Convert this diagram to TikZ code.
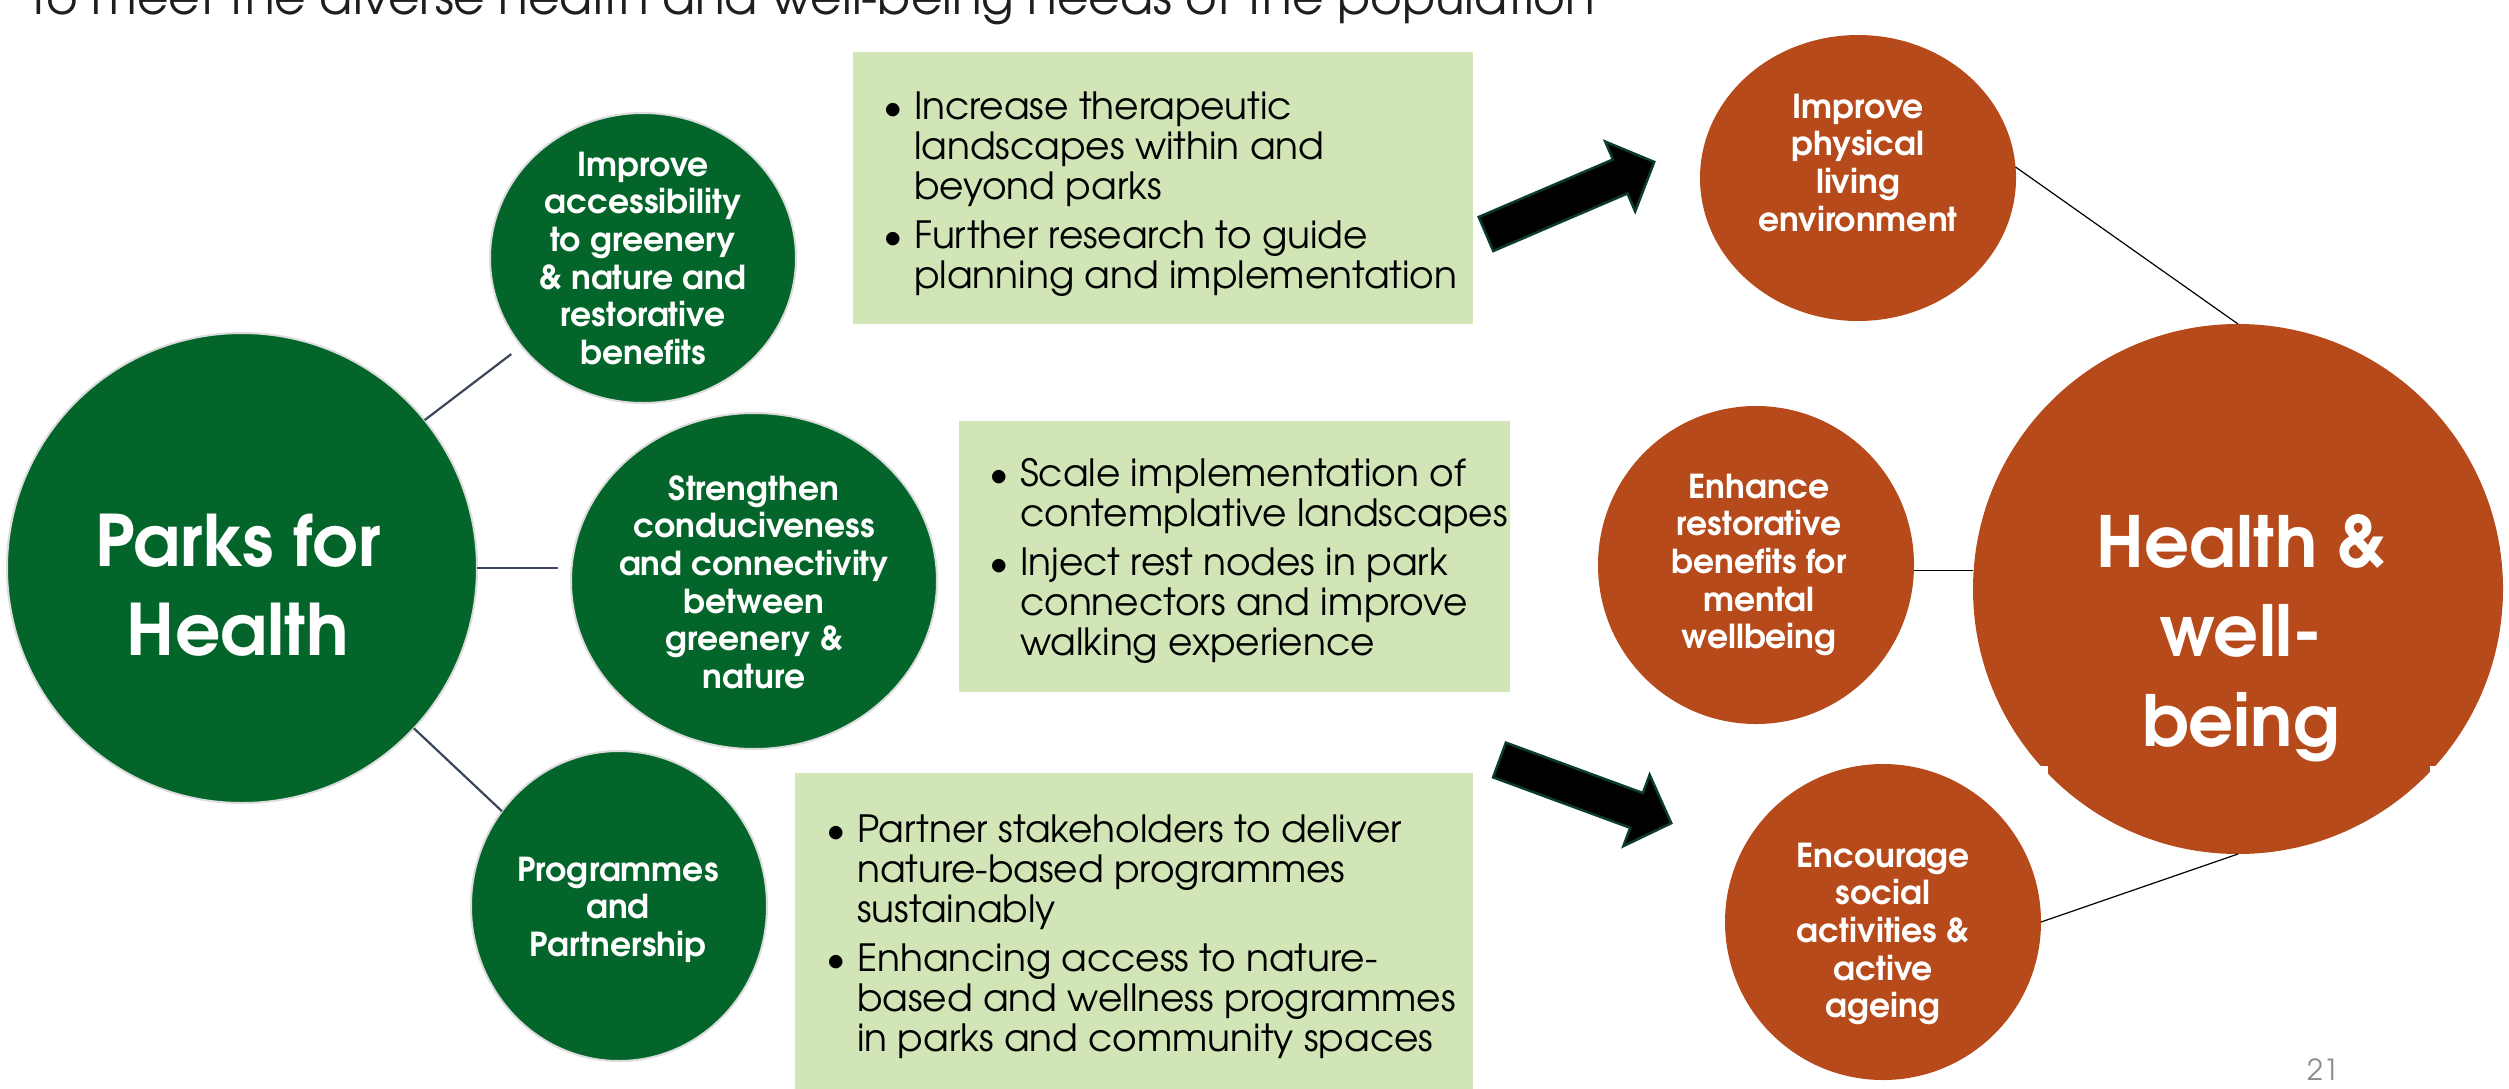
\documentclass[tikz,border=0pt]{standalone}
\usepackage{fontspec}
\setmainfont{texgyreadventor}[Extension=.otf,UprightFont=*-regular,BoldFont=*-bold,ItalicFont=*-italic,BoldItalicFont=*-bolditalic]
\usetikzlibrary{shapes.geometric,calc}
\definecolor{pgreen}{RGB}{3,101,41}
\definecolor{porange}{RGB}{182,74,26}
\definecolor{pbox}{RGB}{209,229,182}
\definecolor{pline}{RGB}{60,70,90}
\definecolor{pedge}{RGB}{220,220,220}
\definecolor{arrowedge}{RGB}{12,60,45}
\definecolor{pnum}{RGB}{140,140,140}
\definecolor{ptitle}{RGB}{30,30,30}
\tikzset{
  gcirc/.style={ellipse, fill=pgreen, draw=pedge, line width=2pt, inner sep=0pt, outer sep=0pt},
  ocirc/.style={ellipse, fill=porange, inner sep=0pt, outer sep=0pt},
  boxnode/.style={rectangle, fill=pbox, inner sep=0pt, outer sep=0pt, anchor=north west},
  ctext/.style={text=white, font=\bfseries\fontsize{33}{37.7}\selectfont, anchor=base, inner sep=0pt},
  btext/.style={text=black, font=\fontsize{37.5}{40}\selectfont, anchor=base west, inner sep=0pt},
  lconn/.style={draw=pline, line width=2.2pt},
  rconn/.style={draw=black, line width=1.2pt},
  bigarrow/.style={fill=black, draw=arrowedge, line width=2.5pt, line join=miter}
}
\newcommand{\bul}{\makebox[26pt][l]{\hspace*{-5pt}\textbullet}}
\newcommand{\ind}{\hspace*{26pt}}
\begin{document}
\begin{tikzpicture}[x=1pt,y=-1pt]
\useasboundingbox (0,0) rectangle (2509,1088);
\clip (0,0) rectangle (2509,1088);
\fill[white] (0,0) rectangle (2509,1088);

% title (cut at top)
\node[anchor=base west, font=\fontsize{48.5}{50}\selectfont, text=ptitle, inner sep=0pt] (title) at (28,14) {To meet the diverse health and well-being needs of the population};

% green circles
\node[gcirc, minimum width=470pt, minimum height=470pt] (parks) at (242,568) {};
\node[gcirc, minimum width=306pt, minimum height=290pt] (acc) at (643,258) {};
\node[gcirc, minimum width=366pt, minimum height=336pt] (str) at (754,581) {};
\node[gcirc, minimum width=296pt, minimum height=310pt] (prog) at (619,906) {};

% orange circles
\node[ocirc, minimum width=316pt, minimum height=286pt] (phys) at (1858,178) {};
\node[ocirc, minimum width=316pt, minimum height=318pt] (enh) at (1756,565) {};
\node[ocirc, minimum width=316pt, minimum height=316pt] (enc) at (1883,922) {};
\node[ocirc, minimum width=530pt, minimum height=530pt] (health) at (2238,589) {};
\fill[white] (2040,766) rectangle (2048,774);
\fill[white] (2430,766) rectangle (2438,774);

% boxes
\node[boxnode, minimum width=620pt, minimum height=272pt] (b1) at (853,52) {};
\node[boxnode, minimum width=551pt, minimum height=271pt] (b2) at (959,421) {};
\node[boxnode, minimum width=678pt, minimum height=320pt] (b3) at (795,773) {};

% connectors
\draw[lconn, shorten >=13pt] (parks.39) -- (acc.216.5);
\draw[lconn, shorten >=13pt] (parks.east) -- (parks.east -| str.west);
\draw[lconn] (parks.-43.5) -- (prog.141);
\draw[rconn] (phys.4.3) -- (health.north);
\draw[rconn] (enh.-2) -- (enh.-2 -| health.west);
\draw[rconn] (enc.east) -- (health.south);

% arrows
\begin{scope}[shift={(1486,234)}, rotate=23.2]
\draw[bigarrow] (0,-18.5) -- (146,-18.5) -- (146,-38) -- (183,0) -- (146,38) -- (146,18.5) -- (0,18.5) -- cycle;
\end{scope}
\begin{scope}[shift={(1499.5,760)}, rotate=-20.2]
\draw[bigarrow] (0,-18.5) -- (146,-18.5) -- (146,-38) -- (183,0) -- (146,38) -- (146,18.5) -- (0,18.5) -- cycle;
\end{scope}

% circle texts
\node[ctext, font=\bfseries\fontsize{71}{89}\selectfont] (tparks) at (238,566) {\begin{tabular}[t]{@{}c@{}}Parks for\\Health\end{tabular}};
\node[ctext] (tacc) at (643,176) {\begin{tabular}[t]{@{}c@{}}Improve\\accessibility\\to greenery\\\& nature and\\restorative\\benefits\end{tabular}};
\node[ctext] (tstr) at (754,500) {\begin{tabular}[t]{@{}c@{}}Strengthen\\conduciveness\\and connectivity\\between\\greenery \&\\nature\end{tabular}};
\node[ctext] (tprog) at (618,881) {\begin{tabular}[t]{@{}c@{}}Programmes\\and\\Partnership\end{tabular}};
\node[ctext] (tphys) at (1858,118) {\begin{tabular}[t]{@{}c@{}}Improve\\physical\\living\\environment\end{tabular}};
\node[ctext] (tenh) at (1759,498) {\begin{tabular}[t]{@{}c@{}}Enhance\\restorative\\benefits for\\mental\\wellbeing\end{tabular}};
\node[ctext] (tenc) at (1883,867) {\begin{tabular}[t]{@{}c@{}}Encourage\\social\\activities \&\\active\\ageing\end{tabular}};
\node[ctext, font=\bfseries\fontsize{70.5}{89.5}\selectfont] (thealth) at (2241,567) {\begin{tabular}[t]{@{}c@{}}Health \&\\well-\\being\end{tabular}};

% box texts
\node[btext] (tb1) at (888,119) {\begin{tabular}[t]{@{}l@{}}\bul Increase therapeutic\\\ind landscapes within and\\\ind beyond parks\\[9pt]\bul Further research to guide\\\ind planning and implementation\end{tabular}};
\node[btext] (tb2) at (994,486) {\begin{tabular}[t]{@{}l@{}}\bul Scale implementation of\\\ind contemplative landscapes\\[9pt]\bul Inject rest nodes in park\\\ind connectors and improve\\\ind walking experience\end{tabular}};
\node[btext] (tb3) at (831,842) {\begin{tabular}[t]{@{}l@{}}\bul Partner stakeholders to deliver\\\ind nature-based programmes\\\ind sustainably\\[9pt]\bul Enhancing access to nature-\\\ind based and wellness programmes\\\ind in parks and community spaces\end{tabular}};

% page number
\node[anchor=base west, font=\fontsize{29}{30}\selectfont, text=pnum, inner sep=0pt] (pnum) at (2307,1080) {21};
\end{tikzpicture}
\end{document}
